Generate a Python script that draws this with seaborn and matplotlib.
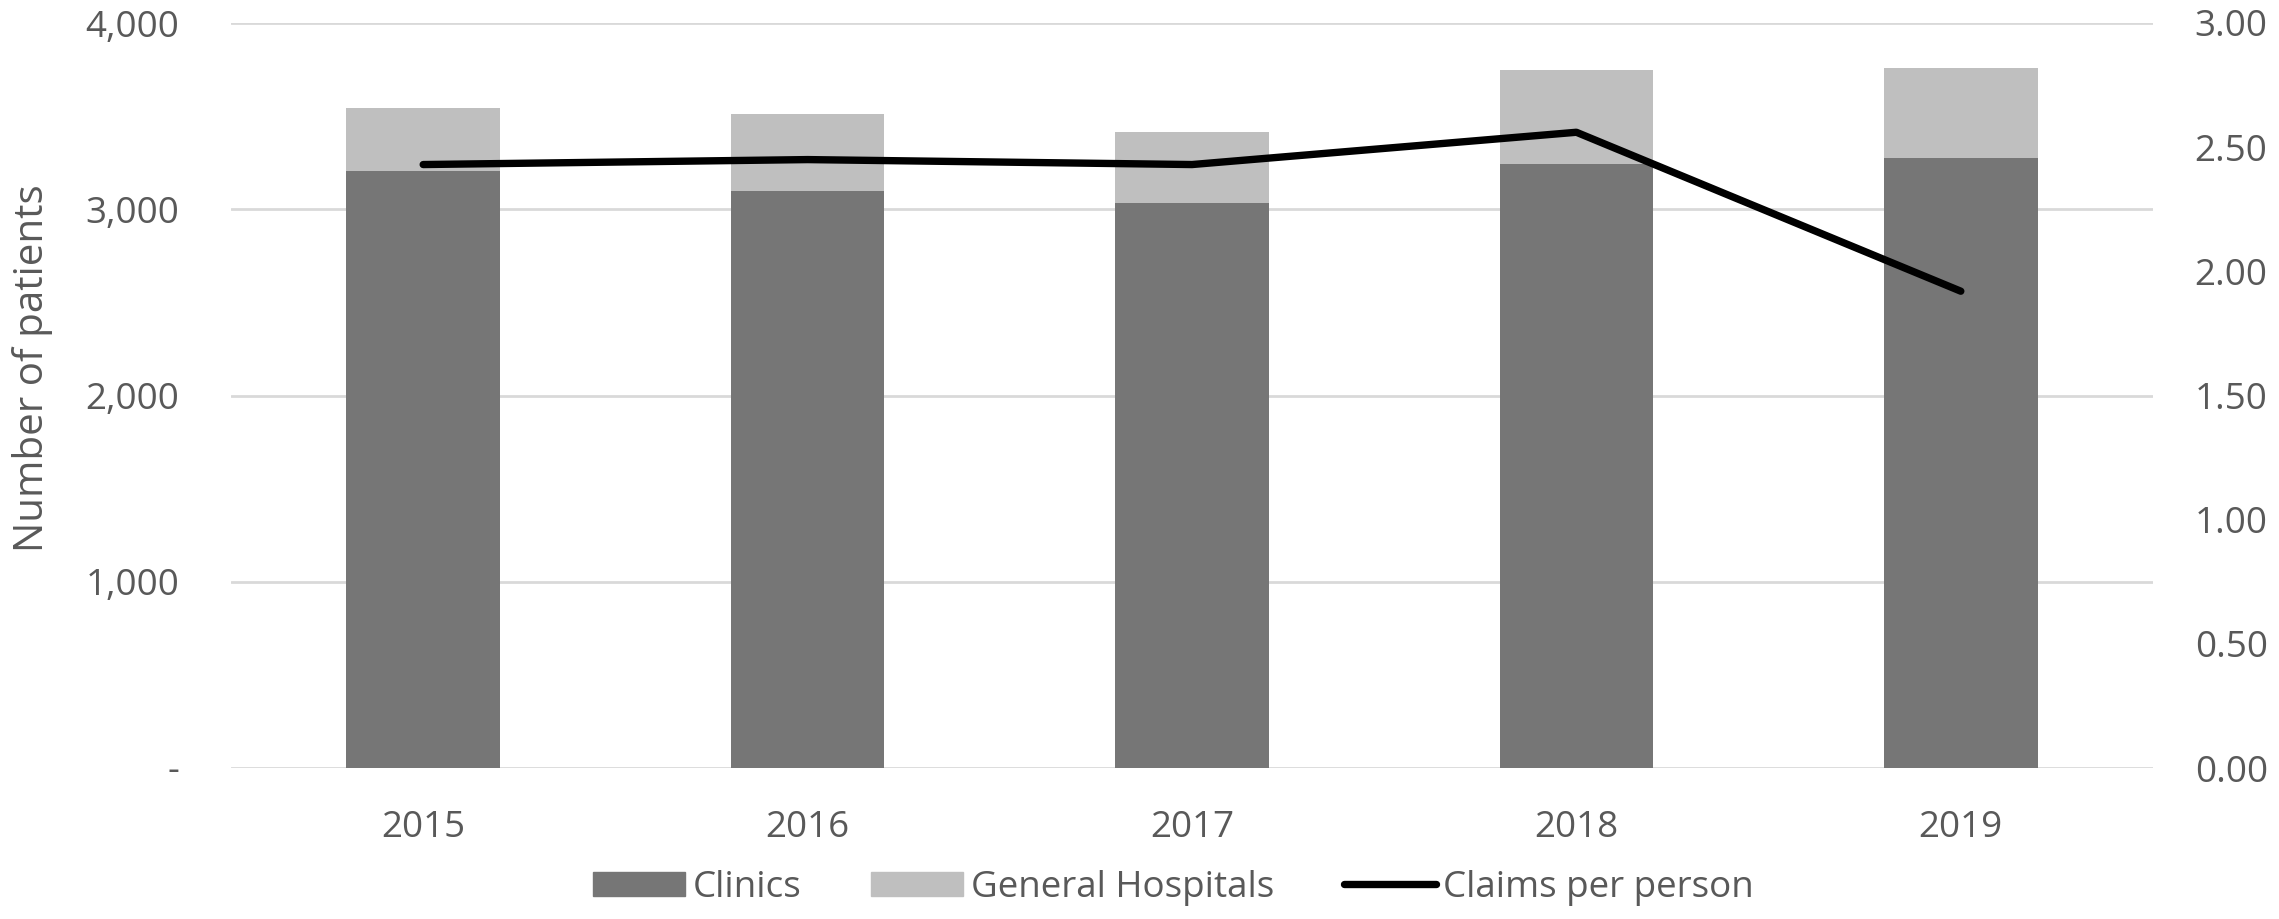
import numpy as np
import seaborn as sns
import matplotlib.pyplot as plt
from matplotlib.patches import Patch
from matplotlib.lines import Line2D
from matplotlib.ticker import FuncFormatter

# data
years = ["2015", "2016", "2017", "2018", "2019"]
clinics = [3203, 3097, 3036, 3244, 3276]
general_hospitals = [343, 415, 381, 504, 481]
claims_per_person = [2.43, 2.45, 2.43, 2.56, 1.92]

totals = [c + g for c, g in zip(clinics, general_hospitals)]

sns.set_style("white")
plt.rcParams["font.family"] = ["Open Sans", "DejaVu Sans"]
text_col = "#595959"
dark = "#767676"
light = "#bfbfbf"
fs = 26.5

fig = plt.figure(figsize=(22.79, 9.19), dpi=100)
ax = fig.add_axes([231 / 2279, 1 - 768 / 919, (2153 - 231) / 2279, (768 - 23) / 919])

# stacked bars: total in light grey, clinics drawn over it
sns.barplot(x=years, y=totals, color=light, width=0.4, saturation=1,
            linewidth=0, ax=ax)
sns.barplot(x=years, y=clinics, color=dark, width=0.4, saturation=1,
            linewidth=0, ax=ax)
ax.set_ylim(0, 4000)
ax.set_xlim(-0.5, len(years) - 0.5)
ax.set_yticks([0, 1000, 2000, 3000, 4000])
ax.yaxis.set_major_formatter(FuncFormatter(lambda v, p: "-" if v == 0 else f"{v:,.0f}"))
ax.grid(axis="y", color="#d9d9d9", linewidth=2)
ax.set_axisbelow(True)
ax.set_ylabel("Number of patients", fontsize=29, color=text_col)
ax.yaxis.set_label_coords(-0.0925, 0.537)
ax.tick_params(axis="y", length=0, pad=37, labelsize=fs, labelcolor=text_col)
ax.tick_params(axis="x", length=0, pad=30, labelsize=fs, labelcolor=text_col)
for s in ax.spines.values():
    s.set_visible(False)

# line on secondary axis
ax2 = ax.twinx()
sns.lineplot(x=np.arange(len(years)), y=claims_per_person, color="black",
             linewidth=5.3, solid_capstyle="round", ax=ax2)
ax2.set_ylim(0, 3)
ax2.set_yticks(np.arange(0, 3.01, 0.5))
ax2.yaxis.set_major_formatter(FuncFormatter(lambda v, p: f"{v:.2f}"))
ax2.tick_params(axis="y", length=0, pad=30, labelsize=fs, labelcolor=text_col)
ax2.grid(False)
for s in ax2.spines.values():
    s.set_visible(False)

handles = [Patch(color=dark, label="Clinics"),
           Patch(color=light, label="General Hospitals"),
           Line2D([0], [0], color="black", linewidth=5.3, solid_capstyle="round",
                  label="Claims per person")]
fig.legend(handles=handles, loc="center", bbox_to_anchor=(0.515, 0.034), ncol=3,
           frameon=False, fontsize=fs, labelcolor=text_col, handlelength=2.5,
           handleheight=0.64, handletextpad=0.2, columnspacing=1.9)

fig.savefig("out.png", dpi=100)
